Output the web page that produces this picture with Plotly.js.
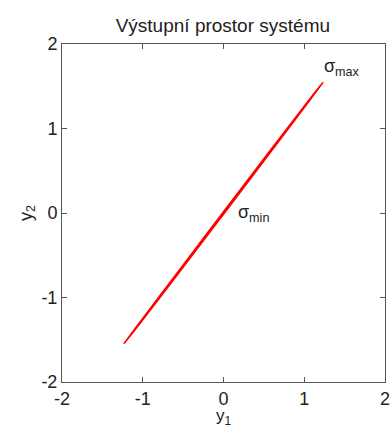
<!DOCTYPE html>
<html>
<head>
<meta charset="utf-8">
<script src="https://cdn.plot.ly/plotly-3.0.1.min.js"></script>
<style>html,body{margin:0;padding:0;background:#fff;}#chart{width:391px;height:428px;}</style>
</head>
<body>
<div id="chart"></div>
<script>
// Output-space ellipse boundary points
var ellipseX = [1.23, 1.0615, 0.609, -0.007, -0.621, -1.0685, -1.23, -1.0615, -0.609, 0.007, 0.621, 1.0685, 1.23];
var ellipseY = [1.545, 1.3408, 0.777, 0.0056, -0.768, -1.3352, -1.545, -1.3408, -0.777, -0.0056, 0.768, 1.3352, 1.545];
var labelText = ['σ<sub>max</sub>', 'σ<sub>min</sub>'];
var labelX = [1.22, 0.16];
var labelY = [1.72, 0.0];
var tickVals = [-2, -1, 0, 1, 2];
var tickText = ['-2', '-1', '0', '1', '2'];

var font = 'Liberation Sans, Arial, sans-serif';
var axisCommon = {
  range: [-2, 2], tickvals: tickVals, ticktext: tickText,
  showgrid: false, zeroline: false, showline: true, linecolor: '#555', linewidth: 1,
  mirror: 'ticks', ticks: 'inside', ticklen: 5, tickcolor: '#555',
  tickfont: {family: font, size: 18, color: '#222'}
};

var trace = {
  x: ellipseX, y: ellipseY, type: 'scatter', mode: 'lines',
  line: {color: '#ff0000', width: 1.6, shape: 'spline', smoothing: 1},
  hoverinfo: 'skip'
};

var annotations = labelText.map(function (t, i) {
  return {x: labelX[i], y: labelY[i], xref: 'x', yref: 'y', text: t, showarrow: false,
    xanchor: 'left', yanchor: 'middle', font: {family: font, size: 18, color: '#222'}};
});

var layout = {
  width: 391, height: 428,
  margin: {l: 62, r: 5.5, t: 44, b: 46},
  paper_bgcolor: '#fff', plot_bgcolor: '#fff',
  showlegend: false,
  title: {text: 'Výstupní prostor systému', x: 0.57, xanchor: 'center', y: 0.94, yanchor: 'middle',
    font: {family: font, size: 19, color: '#222'}},
  xaxis: Object.assign({}, axisCommon, {title: {text: 'y<sub>1</sub>', standoff: 4, font: {family: font, size: 17, color: '#222'}}}),
  yaxis: Object.assign({}, axisCommon, {title: {text: 'y<sub>2</sub>', standoff: 4, font: {family: font, size: 18, color: '#222'}}}),
  annotations: annotations
};

Plotly.newPlot('chart', [trace], layout, {displayModeBar: false, staticPlot: true});
</script>
</body>
</html>
